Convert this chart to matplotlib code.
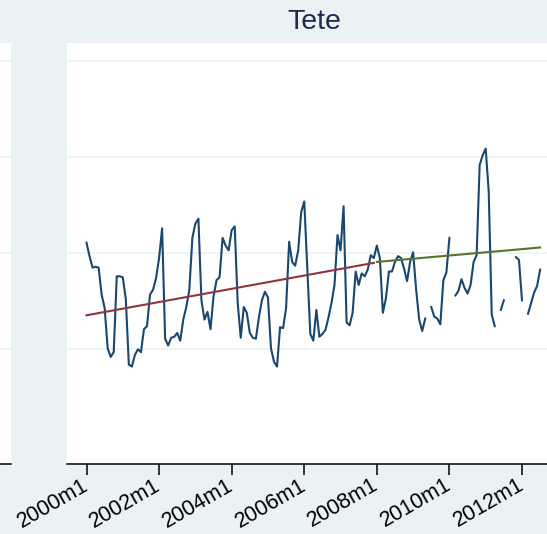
import numpy as np
import matplotlib.pyplot as plt

plt.rcParams['font.family'] = ['Liberation Sans', 'DejaVu Sans']

# monthly series for Tete, 2000m1 .. 2012m7 (nan = missing month)
nan = np.nan
start_year = 2000
tete = [2.11, 1.97, 1.85, 1.86, 1.85, 1.57, 1.43, 1.01, 0.92, 0.97, 1.76, 1.76,
        1.75, 1.52, 0.84, 0.82, 0.94, 1.00, 0.97, 1.21, 1.24, 1.57, 1.62, 1.74,
        1.95, 2.26, 1.11, 1.04, 1.12, 1.13, 1.17, 1.09, 1.31, 1.44, 1.62, 2.16,
        2.31, 2.36, 1.51, 1.31, 1.39, 1.21, 1.55, 1.72, 1.75, 2.16, 2.08, 2.03,
        2.24, 2.28, 1.48, 1.12, 1.44, 1.38, 1.17, 1.12, 1.11, 1.33, 1.51, 1.60,
        1.54, 1.01, 0.87, 0.82, 1.23, 1.22, 1.43, 2.12, 1.91, 1.87, 2.03, 2.43,
        2.54, 1.85, 1.16, 1.09, 1.41, 1.13, 1.16, 1.20, 1.33, 1.48, 1.67, 2.19,
        2.03, 2.49, 1.28, 1.25, 1.38, 1.81, 1.67, 1.79, 1.76, 1.83, 1.98, 1.95,
        2.08, 1.95, 1.38, 1.53, 1.81, 1.81, 1.91, 1.97, 1.95, 1.84, 1.71, 1.91,
        2.01, 1.62, 1.31, 1.19, 1.32, nan, 1.44, 1.34, 1.32, 1.26, 1.72, 1.80,
        2.16, nan, 1.56, 1.61, 1.73, 1.64, 1.58, 1.67, 1.91, 1.98, 2.92, 3.02,
        3.09, 2.64, 1.36, 1.24, nan, 1.41, 1.51, nan, nan, nan, 1.96, 1.93,
        1.51, nan, 1.37, 1.48, 1.59, 1.66, 1.83]

# linear trends before / after 2008m1 (start and end values)
break_month = 96
trend_pre = [1.354, 1.90]
trend_post = [1.91, 2.06]

tick_years = [2000, 2002, 2004, 2006, 2008, 2010, 2012]
grid_vals = [1, 2, 3, 4]

# Stata s2color look
bg = '#EAF2F3'
navy = '#1A476F'
maroon = '#90353B'
green = '#55752F'

months = np.arange(len(tete))
vals = np.array(tete, dtype=float)

W, H = 547, 534
fig = plt.figure(figsize=(W / 100, H / 100), dpi=100, facecolor=bg)

ylim = (-0.198, 4.19)
ax_pos = [66.7 / W, 69.7 / H, (561 - 66.7) / W, (491 - 69.7) / H]

# neighbouring panel, only its right edge is visible
axl = fig.add_axes([-0.3, ax_pos[1], 0.3 + 10.5 / W, ax_pos[3]])
axl.set_ylim(*ylim)
axl.set_xticks([])
axl.set_yticks(grid_vals)
axl.tick_params(axis='y', length=0, labelleft=False)
axl.grid(axis='y', color=bg, lw=1.1)
for s in ['top', 'right', 'left']:
    axl.spines[s].set_visible(False)
axl.spines['bottom'].set_linewidth(1.1)

ax = fig.add_axes(ax_pos)
ax.plot(months, vals, color=navy, lw=1.5, zorder=3)

pre_x = [0, break_month - 1]
post_x = [break_month, len(tete) - 1]
ax.plot(pre_x, trend_pre, color=maroon, lw=1.5, zorder=4)
ax.plot(post_x, trend_post, color=green, lw=1.5, zorder=4)

ax.set_xlim(-6.55, 156.9)
ax.set_ylim(*ylim)
ax.set_yticks(grid_vals)
ax.tick_params(axis='y', length=0, labelleft=False)
ax.grid(axis='y', color=bg, lw=1.1, zorder=0)

tick_pos = [(y - start_year) * 12 for y in tick_years]
ax.set_xticks(tick_pos)
ax.set_xticklabels(['%dm1' % y for y in tick_years], rotation=30,
                   ha='right', va='center', rotation_mode='anchor', fontsize=15.5)
ax.tick_params(axis='x', length=8, width=1.1, pad=6, color='black')

for s in ['top', 'right', 'left']:
    ax.spines[s].set_visible(False)
ax.spines['bottom'].set_linewidth(1.1)

fig.text(314 / W, 1 - 22 / H, 'Tete', ha='center', va='center',
         fontsize=20.5, color='#1C2B4F')

fig.savefig('out.png', dpi=100, facecolor=bg)
